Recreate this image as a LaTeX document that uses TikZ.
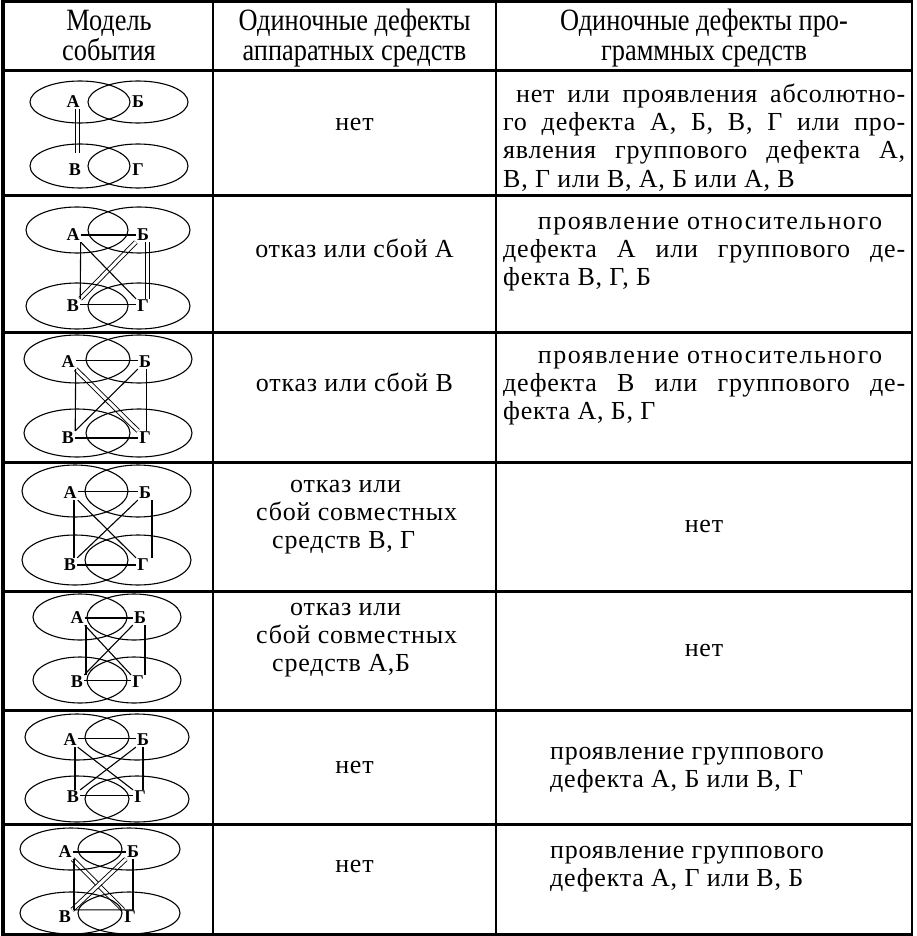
\documentclass[tikz,border=0pt]{standalone}
\usepackage{fontspec}
\setmainfont{Liberation Serif}
\newfontfamily\hdfont[FakeStretch=0.85]{Liberation Serif}
\newfontfamily\bodyfont[LetterSpace=3]{Liberation Serif}
\newfontfamily\widefont[LetterSpace=6]{Liberation Serif}
\newcommand{\jline}[1]{\makebox[402pt][s]{#1}}
\newcommand{\drawdiag}[7]{%
  \draw[ell] (#1,#3) ellipse [x radius=#5, y radius=#6];
  \draw[ell] (#2,#3) ellipse [x radius=#5, y radius=#6];
  \draw[ell] (#1,#4) ellipse [x radius=#5, y radius=#7];
  \draw[ell] (#2,#4) ellipse [x radius=#5, y radius=#7];}
\begin{document}
\begin{tikzpicture}[x=1pt,y=-1pt,
  ell/.style={line width=1.1pt},
  lab/.style={font=\fontsize{18}{18}\selectfont\bfseries, inner sep=1pt},
  sgl/.style={line width=1.1pt},
  dbl/.style={line width=0.9pt, double, double distance=3pt},
  hd/.style={font=\hdfont\fontsize{31}{30}\selectfont, inner sep=0pt, anchor=base},
  bd/.style={font=\bodyfont\fontsize{26}{28}\selectfont, inner sep=0pt, anchor=base},
  bdw/.style={font=\widefont\fontsize{26}{28}\selectfont, inner sep=0pt, anchor=base},
  bdl/.style={bd, anchor=base west},
  tabh/.style={line width=3pt},
  tabv/.style={line width=2pt},
]
\useasboundingbox (0,0) rectangle (917,936);
% ---------- table rules ----------
\draw[tabh] (3,2) -- (913,2);
\foreach \y in {71,195,332,462,591,710,824,934} \draw[tabh] (3,\y) -- (913,\y);
\draw[line width=4.5pt] (3,0.5) -- (3,935.5);
\draw[tabv] (213,2) -- (213,934);
\draw[tabv] (496,2) -- (496,934);
\draw[line width=2.5pt] (912,0.5) -- (912,935.5);
% ---------- header ----------
\node[hd] (h1a) at (109,31) {Модель};
\node[hd] (h1b) at (109,61) {события};
\node[hd] (h2a) at (354.5,31) {Одиночные дефекты};
\node[hd] (h2b) at (354.5,61) {аппаратных средств};
\node[hd] (h3a) at (704,31) {Одиночные дефекты про-};
\node[hd] (h3b) at (704,61) {граммных средств};
% ---------- row 1 ----------
\node[bd] (t12) at (354.5,131) {нет};
\node[bdl] (t13a) at (516,103) {\makebox[389pt][s]{нет или проявления абсолютно-}};
\node[bdl] (t13b) at (503,131) {\jline{го дефекта А, Б, В, Г или про-}};
\node[bdl] (t13c) at (503,159) {\jline{явления группового дефекта А,}};
\node[bdl] (t13d) at (503,187) {В, Г или В, А, Б или А, В};
% ---------- row 2 ----------
\node[bd] (t22) at (354.5,257) {отказ или сбой А};
\node[bdw] (t23a) at (710,229) {проявление относительного};
\node[bdl] (t23b) at (503,257) {\jline{дефекта А или группового де-}};
\node[bdl] (t23c) at (503,285) {фекта В, Г, Б};
% ---------- row 3 ----------
\node[bd] (t32) at (354.5,391) {отказ или сбой В};
\node[bdw] (t33a) at (710,363) {проявление относительного};
\node[bdl] (t33b) at (503,391) {\jline{дефекта В или группового де-}};
\node[bdl] (t33c) at (503,419) {фекта А, Б, Г};
% ---------- row 4 ----------
\node[bdl] (t42a) at (290,492) {отказ или};
\node[bdl] (t42b) at (256,520) {сбой совместных};
\node[bdl] (t42c) at (272,548) {средств В, Г};
\node[bd] (t43) at (704,532) {нет};
% ---------- row 5 ----------
\node[bdl] (t52a) at (290,615) {отказ или};
\node[bdl] (t52b) at (256,643) {сбой совместных};
\node[bdl] (t52c) at (272,671) {средств А,Б};
\node[bd] (t53) at (704,656) {нет};
% ---------- row 6 ----------
\node[bd] (t62) at (354.5,773) {нет};
\node[bdl] (t63a) at (550,759) {проявление группового};
\node[bdl] (t63b) at (550,787) {дефекта А, Б или В, Г};
% ---------- row 7 ----------
\node[bd] (t72) at (354.5,872) {нет};
\node[bdl] (t73a) at (550,858) {проявление группового};
\node[bdl] (t73b) at (550,886) {дефекта А, Г или В, Б};
% ---------- diagram labels ----------
\node[lab] (a1) at (73,102) {А}; \node[lab] (a2) at (138,102) {Б};
\node[lab] (a3) at (75,170) {В}; \node[lab] (a4) at (138,170) {Г};
\node[lab] (b1) at (73,235) {А}; \node[lab] (b2) at (143,235) {Б};
\node[lab] (b3) at (73,306) {В}; \node[lab] (b4) at (143,306) {Г};
\node[lab] (c1) at (68,362) {А}; \node[lab] (c2) at (145,362) {Б};
\node[lab] (c3) at (68,438) {В}; \node[lab] (c4) at (145,438) {Г};
\node[lab] (d1) at (70,493) {А}; \node[lab] (d2) at (145,493) {Б};
\node[lab] (d3) at (70,565) {В}; \node[lab] (d4) at (143,565) {Г};
\node[lab] (e1) at (77,618) {А}; \node[lab] (e2) at (140,618) {Б};
\node[lab] (e3) at (77,682) {В}; \node[lab] (e4) at (138,682) {Г};
\node[lab] (f1) at (70,740) {А}; \node[lab] (f2) at (143,740) {Б};
\node[lab] (f3) at (73,797) {В}; \node[lab] (f4) at (140,797) {Г};
\node[lab] (g1) at (65,852) {А}; \node[lab] (g2) at (133,852) {Б};
\node[lab] (g3) at (65,917) {В}; \node[lab] (g4) at (130,917) {Г};
% ---------- double connectors ----------
\draw[dbl] ([xshift=4.5pt]a1.south) -- ([xshift=2.5pt,yshift=10pt]a3.north);
\draw[dbl] ([xshift=4.5pt]b2.south) -- ([xshift=4.5pt]b4.north);
\draw[dbl] (b2.south west) -- (b3.north east);
\draw[dbl] (b3.east) -- (b4.west);
\draw[dbl] (c1.east) -- (c2.west);
\draw[dbl] ([xshift=3pt]c2.south) -- ([xshift=3pt]c4.north);
\draw[dbl] (c1.south east) -- (c4.north west);
\draw[dbl] (d1.east) -- (d2.west);
\draw[dbl] (e3.east) -- (e4.west);
\draw[dbl] (f1.east) -- (f2.west);
\draw[dbl] (f3.east) -- (f4.west);
\draw[dbl] (g1.south east) -- (g4.north west);
\draw[dbl] (g2.south west) -- (g3.north east);
% ---------- single connectors ----------
\draw[sgl] (b1.east) -- (b2.west);
\draw[sgl] (b1.south east) -- (b3.north east);
\draw[sgl] (b1.south east) -- (b4.north west);
\draw[sgl] (c1.south east) -- (c3.north east);
\draw[sgl] (c2.south west) -- (c3.north east);
\draw[sgl] (c3.east) -- (c4.west);
\draw[sgl] ([xshift=4pt]d1.south) -- ([xshift=4pt]d3.north);
\draw[sgl] ([xshift=7pt]d2.south) -- ([xshift=9pt]d4.north);
\draw[sgl] (d1.south east) -- (d4.north west);
\draw[sgl] (d2.south west) -- (d3.north east);
\draw[sgl] (d3.east) -- (d4.west);
\draw[sgl] (e1.east) -- (e2.west);
\draw[sgl] ([xshift=9pt]e1.south) -- ([xshift=9pt]e3.north);
\draw[sgl] ([xshift=5pt]e2.south) -- ([xshift=7pt]e4.north);
\draw[sgl] (e1.south east) -- (e4.north west);
\draw[sgl] (e2.south west) -- (e3.north east);
\draw[sgl] ([xshift=5pt]f1.south) -- ([xshift=2pt]f3.north);
\draw[sgl] (f2.south) -- ([xshift=3pt]f4.north);
\draw[sgl] (f1.south east) -- (f4.north west);
\draw[sgl] (f2.south west) -- (f3.north east);
\draw[sgl] (g1.east) -- (g2.west);
\draw[sgl] ([xshift=9pt]g1.south) -- ([xshift=9pt]g3.north);
\draw[sgl] (g2.south) -- ([xshift=3pt]g4.north);
\draw[sgl] ([xshift=9pt]g3.north) -- ([xshift=3pt]g4.north);
% ---------- ellipses ----------
\drawdiag{80}{138}{102}{166}{50}{21}{22}
\drawdiag{77}{139}{230}{306}{51}{23}{23}
\drawdiag{77}{139}{359}{433}{53}{24}{24}
\drawdiag{75}{138}{491}{560}{53}{26}{25}
\drawdiag{80}{134}{617}{680}{47}{23}{23}
\drawdiag{77}{137}{737}{799}{52}{23}{23}
\drawdiag{71}{129}{849}{913}{51}{21}{21}
\end{tikzpicture}
\end{document}
